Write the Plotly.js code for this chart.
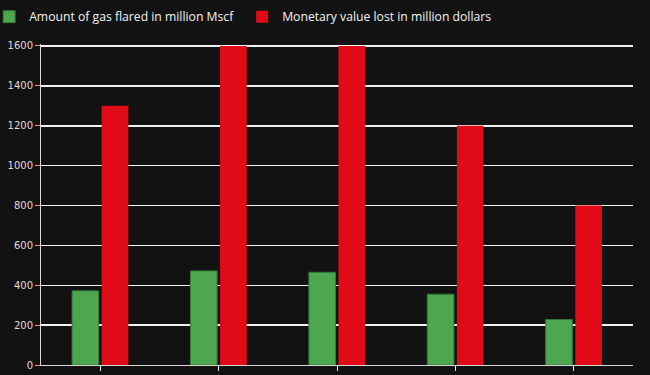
<!DOCTYPE html>
<html>
<head>
<script src="https://cdn.plot.ly/plotly-3.0.1.min.js"></script>
<style>html,body{margin:0;padding:0;background:#121212;}#chart{width:650px;height:375px;}</style>
</head>
<body>
<div id="chart"></div>
<script>
const categories = ["1", "2", "3", "4", "5"];
const gasFlared = [372, 472, 465, 355, 228];
const valueLost = [1300, 1600, 1600, 1200, 800];
const seriesNames = ["Amount of gas flared in million Mscf", "Monetary value lost in million dollars"];
const yTicks = [0, 200, 400, 600, 800, 1000, 1200, 1400, 1600];

const data = [
  {type: "bar", x: categories, y: gasFlared, name: seriesNames[0],
   marker: {color: "#4ea64e", line: {color: "#2f7a3a", width: 1}}},
  {type: "bar", x: categories, y: valueLost, name: seriesNames[1],
   marker: {color: "#e10b17", line: {width: 0}}}
];
const layout = {
  width: 650, height: 375,
  paper_bgcolor: "#121212", plot_bgcolor: "#121212",
  margin: {l: 41, r: 17, t: 44, b: 10, autoexpand: false},
  barmode: "group", bargap: 0.5, bargroupgap: 0.1,
  showlegend: true,
  legend: {orientation: "h", x: -0.0876, xanchor: "left", y: 1.04, yanchor: "bottom",
           font: {family: "Open Sans", size: 12.2, color: "#f2f2f2"},
           itemwidth: 30, entrywidth: 208, entrywidthmode: "pixels",
           bgcolor: "rgba(0,0,0,0)", traceorder: "normal"},
  xaxis: {showticklabels: false, ticks: "outside", ticklen: 5, tickcolor: "#e8e8e8",
          showline: true, linecolor: "#d8d8d8", linewidth: 1, showgrid: false, zeroline: false},
  yaxis: {range: [0, 1610], tickvals: yTicks, ticks: "outside", ticklen: 5, tickcolor: "#d98a8a",
          showline: true, linecolor: "#d8d8d8", linewidth: 1,
          gridcolor: "#f2f2f2", gridwidth: 1.5, zeroline: false,
          tickfont: {family: "DejaVu Sans", size: 10, color: "#e6d6d6"}},
  font: {family: "Open Sans"}
};
Plotly.newPlot("chart", data, layout, {displayModeBar: false, staticPlot: true});
</script>
</body>
</html>
